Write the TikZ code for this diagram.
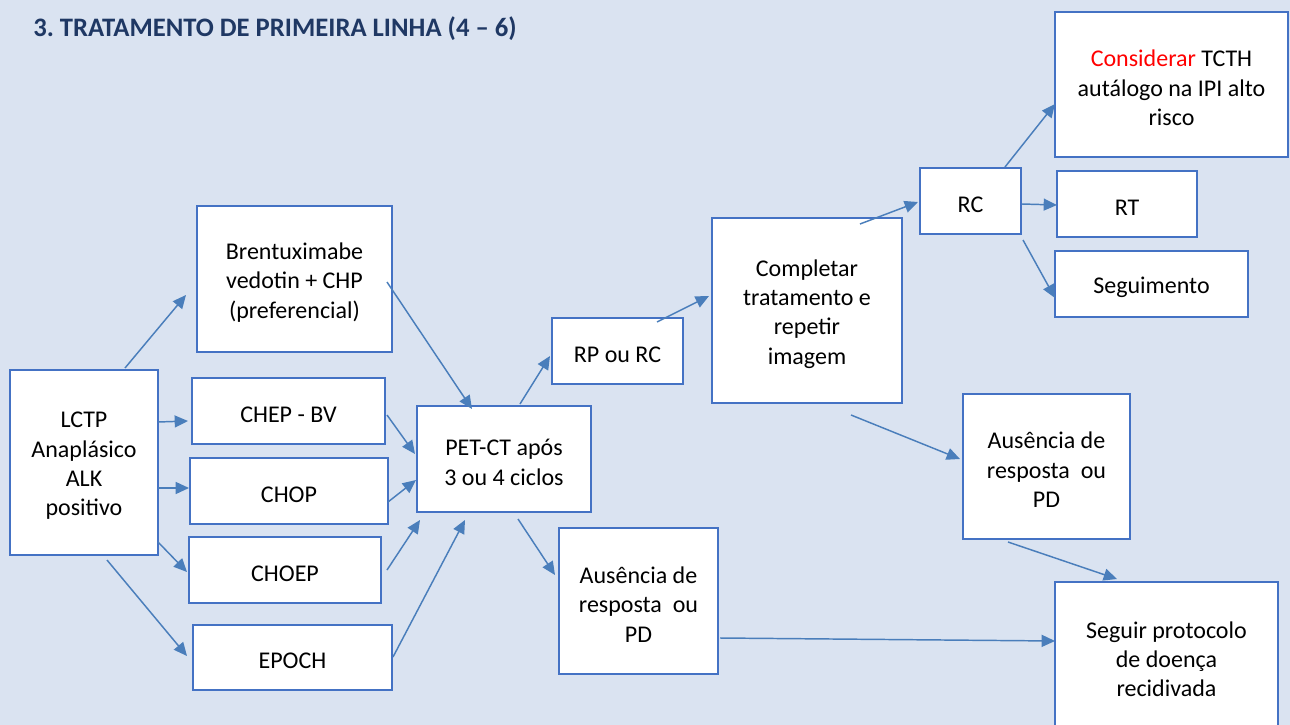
\documentclass[tikz,border=0pt]{standalone}
\usepackage{fontspec}
\setmainfont{Carlito}
\usetikzlibrary{arrows.meta}
\frenchspacing
\definecolor{bgc}{HTML}{DAE3F1}
\definecolor{boxc}{HTML}{4472C4}
\definecolor{arrc}{HTML}{4A7EBB}
\definecolor{titc}{HTML}{1F3864}
\definecolor{redc}{HTML}{FF0000}
\tikzset{
  bx/.style 2 args={draw=boxc, line width=1.4pt, fill=white,
    minimum width=#1*0.75pt, minimum height=#2*0.75pt, inner sep=0pt},
  txt/.style={align=center, inner sep=0pt, font=\fontsize{18}{22}\selectfont},
  conn/.style={draw=arrc, line width=1.1pt, -{Triangle[length=10pt,width=9pt]}}
}
\newcommand\bxnode[5]{%
  \node[bx={#2}{#3}] (#1) at (#4) {};
  \node[txt] (#1-t) at ([yshift=-2.5pt]#1.center) {#5};}
\begin{document}
\begin{tikzpicture}[x=0.75pt,y=-0.75pt]
\clip (0,0) rectangle (1290,725);
\fill[bgc] (0,0) rectangle (1290,725);
\node[anchor=west, inner sep=0pt, text=titc, font=\bfseries\fontsize{20}{24}\selectfont] (title) at (33,29) {3. TRATAMENTO DE PRIMEIRA LINHA (4 – 6)};

\bxnode{lctp}{148}{185}{84,462.5}{LCTP\\Anaplásico\\ALK\\positivo}
\bxnode{bv}{195}{146}{294.5,279}{Brentuximabe\\vedotin + CHP\\(preferencial)}
\bxnode{chepbv}{193}{66}{288.5,411}{CHEP - BV}
\bxnode{chop}{198}{66}{289,491}{CHOP}
\bxnode{choep}{192}{66}{285,570}{CHOEP}
\bxnode{epoch}{199}{65}{292.5,657.5}{EPOCH}
\bxnode{pet}{174}{106}{504,459}{PET-CT após\\3 ou 4 ciclos}
\bxnode{ausa}{159}{146}{638.5,601}{Ausência de\\resposta\ \ ou\\PD}
\bxnode{rprc}{131}{66}{617.5,351}{RP ou RC}
\bxnode{comp}{190}{185}{807,310.5}{Completar\\tratamento e\\repetir\\imagem}
\bxnode{rc}{101}{66}{970.5,201}{RC}
\bxnode{cons}{233}{145}{1171.5,84.5}{\textcolor{redc}{Considerar} TCTH\\autálogo na IPI alto\\risco}
\bxnode{rt}{140}{66}{1127,204}{RT}
\bxnode{seg}{193}{66}{1151.5,284}{Seguimento}
\bxnode{ausb}{167}{145}{1046.5,466.5}{Ausência de\\resposta\ \ ou\\PD}
\bxnode{seguir}{223}{148}{1166.5,656}{Seguir protocolo\\de doença\\recidivada}

% connector end points
\coordinate (a1s) at (125,368); \coordinate (a1e) at (186,295);
\coordinate (a2s) at (158,422); \coordinate (a2e) at (188,421);
\coordinate (a3s) at (158,488); \coordinate (a3e) at (189,488);
\coordinate (a4s) at (158,542); \coordinate (a4e) at (187,572);
\coordinate (a5s) at (107,560); \coordinate (a5e) at (187,656);
\coordinate (a6s) at (387,282); \coordinate (a6e) at (472,409);
\coordinate (a7s) at (387,415); \coordinate (a7e) at (415,454);
\coordinate (a8s) at (388,502); \coordinate (a8e) at (416,480);
\coordinate (a9s) at (387,570); \coordinate (a9e) at (420,520);
\coordinate (a10s) at (393,657); \coordinate (a10e) at (465,520);
\coordinate (a11s) at (520,404); \coordinate (a11e) at (550,356);
\coordinate (a12s) at (518,519); \coordinate (a12e) at (555,575);
\coordinate (a13s) at (657,322); \coordinate (a13e) at (709,296);
\coordinate (a14s) at (860,224); \coordinate (a14e) at (918,202);
\coordinate (a15s) at (1005,167); \coordinate (a15e) at (1055,104);
\coordinate (a16s) at (1022,204); \coordinate (a16e) at (1057,205);
\coordinate (a17s) at (1023,240); \coordinate (a17e) at (1055,298);
\coordinate (a18s) at (851,415); \coordinate (a18e) at (960,459);
\coordinate (a19s) at (1008,542); \coordinate (a19e) at (1117,579);
\coordinate (a20s) at (720,638); \coordinate (a20e) at (1055,641);

\foreach \i in {1,...,20} { \draw[conn] (a\i s) -- (a\i e); }
\end{tikzpicture}
\end{document}
